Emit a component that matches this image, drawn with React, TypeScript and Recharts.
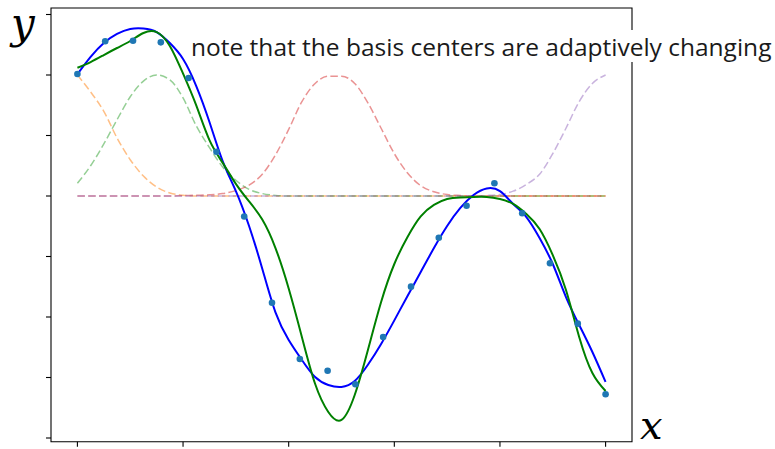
import React from 'react';
import { ComposedChart, Line, Scatter, XAxis, YAxis, ReferenceArea } from 'recharts';

// sample positions along x (0..1, step 0.025)
const gridX = [
  0, 0.025, 0.05, 0.075, 0.1, 0.125, 0.15, 0.175, 0.2, 0.225,
  0.25, 0.275, 0.3, 0.325, 0.35, 0.375, 0.4, 0.425, 0.45, 0.475,
  0.5, 0.525, 0.55, 0.575, 0.6, 0.625, 0.65, 0.675, 0.7, 0.725,
  0.75, 0.775, 0.8, 0.825, 0.85, 0.875, 0.9, 0.925, 0.95, 0.975, 1,
];

// fitted curve, fixed basis (blue)
const fixedFit = [
  1.006, 1.149, 1.264, 1.339, 1.38, 1.384, 1.355, 1.264, 1.132, 0.909,
  0.612, 0.289, 0.041, -0.248, -0.601, -0.962, -1.19, -1.355, -1.496, -1.562,
  -1.578, -1.529, -1.395, -1.223, -1.028, -0.826, -0.628, -0.43, -0.248, -0.099,
  0.008, 0.062, 0.04, -0.066, -0.174, -0.347, -0.562, -0.835, -1.066, -1.289, -1.537,
];

// fitted curve, adaptive centers (green)
const adaptiveFit = [
  1.06, 1.107, 1.165, 1.223, 1.281, 1.347, 1.355, 1.24, 1.012, 0.749,
  0.462, 0.274, 0.1, -0.045, -0.195, -0.43, -0.764, -1.165, -1.552, -1.785,
  -1.851, -1.645, -1.273, -0.876, -0.562, -0.339, -0.169, -0.074, -0.025, -0.012,
  -0.008, -0.008, -0.025, -0.066, -0.149, -0.273, -0.488, -0.777, -1.165, -1.463, -1.612,
];

// basis functions
const basisA = [
  1, 0.86, 0.7, 0.48, 0.3, 0.165, 0.075, 0.025, 0.006, 0,
  0, 0, 0, 0, 0, 0, 0, 0, 0, 0,
  0, 0, 0, 0, 0, 0, 0, 0, 0, 0,
  0, 0, 0, 0, 0, 0, 0, 0, 0, 0, 0,
];
const basisB = [
  0.105, 0.25, 0.43, 0.63, 0.82, 0.95, 1, 0.96, 0.81, 0.58,
  0.4, 0.24, 0.13, 0.055, 0.02, 0.005, 0, 0, 0, 0,
  0, 0, 0, 0, 0, 0, 0, 0, 0, 0,
  0, 0, 0, 0, 0, 0, 0, 0, 0, 0, 0,
];
const basisC = [
  0, 0, 0, 0, 0, 0, 0, 0, 0.003, 0.006,
  0.01, 0.02, 0.045, 0.09, 0.18, 0.34, 0.55, 0.78, 0.93, 0.99,
  0.99, 0.93, 0.77, 0.56, 0.35, 0.19, 0.085, 0.035, 0.012, 0.004,
  0, 0, 0, 0, 0, 0, 0, 0, 0, 0, 0,
];
const basisD = [
  0, 0, 0, 0, 0, 0, 0, 0, 0, 0,
  0, 0, 0, 0, 0, 0, 0, 0, 0, 0,
  0, 0, 0, 0, 0, 0, 0, 0, 0, 0,
  0, 0.004, 0.012, 0.04, 0.095, 0.18, 0.35, 0.56, 0.78, 0.93, 1,
];

// noisy samples
const sampleX = [
  0, 0.0526, 0.1053, 0.1579, 0.2105, 0.2632, 0.3158, 0.3684, 0.4211, 0.4737,
  0.5263, 0.5789, 0.6316, 0.6842, 0.7368, 0.7895, 0.8421, 0.8947, 0.9474, 1,
];
const sampleY = [
  1.008, 1.279, 1.283, 1.27, 0.975, 0.366, -0.169, -0.882, -1.347, -1.444,
  -1.556, -1.165, -0.749, -0.345, -0.08, 0.105, -0.143, -0.556, -1.055, -1.639,
];

const xTicks = [0, 0.2, 0.4, 0.6, 0.8, 1];
const yTicks = [-2, -1.5, -1, -0.5, 0, 0.5, 1, 1.5];

const X_MIN = -0.05;
const X_MAX = 1.05;
const Y_MIN = -2.0306;
const Y_MAX = 1.5537;

const toPoints = (vals: number[]) => gridX.map((x, i) => ({ x, y: vals[i] }));
const samples = sampleX.map((x, i) => ({ x, y: sampleY[i] }));

const basisSeries = [
  { key: 'b0', vals: basisA, color: '#ff7f0e' },
  { key: 'b1', vals: basisB, color: '#2ca02c' },
  { key: 'b2', vals: basisC, color: '#d62728' },
  { key: 'b3', vals: basisD, color: '#9467bd' },
];

const Dot = (props: any) => <circle cx={props.cx} cy={props.cy} r={3.3} fill="#1f77b4" />;

const mathLabel = { fontFamily: "'DejaVu Serif', serif", fontStyle: 'italic', fill: '#000' };

export default function App() {
  return (
    <div style={{ position: 'absolute', left: 0, top: 0, width: 775, height: 449, background: '#fff' }}>
      <ComposedChart width={775} height={449} margin={{ top: 8, right: 143, bottom: 0, left: 0 }}>
        <XAxis
          type="number"
          dataKey="x"
          domain={[X_MIN, X_MAX]}
          ticks={xTicks}
          allowDataOverflow
          height={7.3}
          axisLine={false}
          tickLine={{ stroke: '#000', strokeWidth: 1.1 }}
          tickSize={5}
          tickFormatter={() => ''}
        />
        <YAxis
          type="number"
          dataKey="y"
          domain={[Y_MIN, Y_MAX]}
          ticks={yTicks}
          allowDataOverflow
          width={51}
          axisLine={false}
          tickLine={{ stroke: '#000', strokeWidth: 1.1 }}
          tickSize={5}
          tickFormatter={() => ''}
        />
        <Scatter data={samples} dataKey="y" shape={Dot} isAnimationActive={false} />
        {basisSeries.map((b) => (
          <Line
            key={b.key}
            data={toPoints(b.vals)}
            dataKey="y"
            type="monotone"
            stroke={b.color}
            strokeOpacity={0.5}
            strokeWidth={1.5}
            strokeDasharray="7.5 3.3"
            dot={false}
            activeDot={false}
            isAnimationActive={false}
          />
        ))}
        <Line
          data={toPoints(fixedFit)}
          dataKey="y"
          type="natural"
          stroke="#0000ff"
          strokeWidth={2}
          dot={false}
          activeDot={false}
          isAnimationActive={false}
        />
        <Line
          data={toPoints(adaptiveFit)}
          dataKey="y"
          type="natural"
          stroke="#008000"
          strokeWidth={2}
          dot={false}
          activeDot={false}
          isAnimationActive={false}
        />
        <ReferenceArea
          x1={X_MIN}
          x2={X_MAX}
          y1={Y_MIN}
          y2={Y_MAX}
          fill="none"
          stroke="#000"
          strokeWidth={1.1}
          strokeOpacity={1}
          ifOverflow="visible"
        />
      </ComposedChart>
      <svg width={775} height={449} style={{ position: 'absolute', left: 0, top: 0, pointerEvents: 'none' }}>
        <rect x={187} y={30} width={588} height={32} fill="#fff" />
        <text x={191} y={56} fontFamily="'Open Sans', sans-serif" fontSize={24.5} fill="#1a1a1a">
          note that the basis centers are adaptively changing
        </text>
        <text x={11} y={38} fontSize={42} {...mathLabel}>
          y
        </text>
        <text x={640} y={439} fontSize={40} {...mathLabel}>
          x
        </text>
      </svg>
    </div>
  );
}
